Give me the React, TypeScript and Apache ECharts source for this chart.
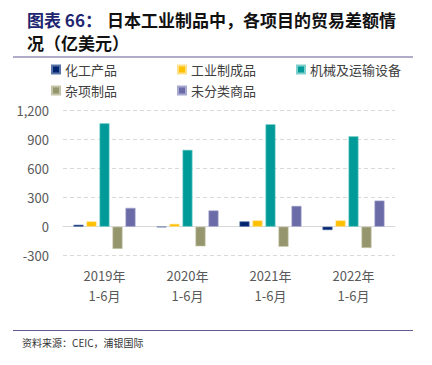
import React, { useEffect, useRef } from "react";
import * as echarts from "echarts";

const categories = ["2019年\n1-6月", "2020年\n1-6月", "2021年\n1-6月", "2022年\n1-6月"];
const seriesNames = ["化工产品", "工业制成品", "机械及运输设备", "杂项制品", "未分类商品"];
const chemicals = [20, -5, 55, -35];
const manufactured = [55, 30, 65, 65];
const machinery = [1070, 795, 1060, 935];
const misc = [-230, -203, -207, -220];
const unclassified = [195, 168, 215, 270];
const colors = ["#002470", "#FFC000", "#009B98", "#96966E", "#6B6BA8"];
const borderColors = ["#5A74A8", "#FFE08A", "#7FD0CC", "#C4C4A8", "#A8A8D0"];
const yTicks = { min: -300, max: 1200, interval: 300 };

const FONT = "'Noto Sans CJK SC', 'Noto Sans', sans-serif";

export default function App() {
  const ref = useRef<HTMLDivElement>(null);
  useEffect(() => {
    if (!ref.current) return;
    const chart = echarts.init(ref.current, undefined, { renderer: "svg" });
    const values = [chemicals, manufactured, machinery, misc, unclassified];
    const legendPos = [
      { left: 51, top: 63 },
      { left: 177, top: 63 },
      { left: 296, top: 63 },
      { left: 51, top: 84 },
      { left: 177, top: 84 },
    ];
    chart.setOption({
      animation: false,
      textStyle: { fontFamily: FONT },
      title: {
        left: 22,
        top: 3,
        text: "{a|图表 66：}{b|日本工业制品中，各项目的贸易差额情}\n{b|况（亿美元）}",
        textStyle: {
          rich: {
            a: { fontSize: 17, fontWeight: "bold", color: "#1F2670", fontFamily: FONT, lineHeight: 23, width: 80 },
            b: { fontSize: 17, fontWeight: "bold", color: "#111111", fontFamily: FONT, lineHeight: 23 },
          },
        },
      },
      legend: seriesNames.map((n, i) => ({
        data: [n],
        left: legendPos[i].left,
        top: legendPos[i].top,
        padding: 0,
        itemWidth: 8,
        itemHeight: 8,
        icon: "rect",
        textStyle: { fontSize: 13, color: "#404040", fontFamily: FONT },
      })),
      grid: { left: 63, right: 37, top: 110.7, bottom: 109.3, containLabel: false },
      xAxis: {
        type: "category",
        data: categories,
        axisLine: { show: true, onZero: true, lineStyle: { color: "#D9D9D9", width: 1 } },
        axisTick: { show: false },
        axisLabel: {
          interval: 0,
          fontSize: 13,
          color: "#595959",
          lineHeight: 20,
          margin: 10,
          fontFamily: FONT,
        },
      },
      yAxis: {
        type: "value",
        min: yTicks.min,
        max: yTicks.max,
        interval: yTicks.interval,
        axisLine: { show: false },
        axisTick: { show: false },
        axisLabel: {
          fontSize: 13,
          color: "#595959",
          margin: 14,
          fontFamily: FONT,
          formatter: (v: number) => v.toLocaleString("en-US"),
        },
        splitLine: { lineStyle: { color: "#D9D9D9", type: [4, 3], width: 1 } },
      },
      series: seriesNames.map((n, i) => ({
        name: n,
        type: "bar",
        data: values[i],
        barWidth: 10,
        barGap: "30%",
        itemStyle: { color: colors[i], borderColor: borderColors[i], borderWidth: 0.6 },
      })),
      graphic: [
        { type: "line", shape: { x1: 13, y1: 57, x2: 413, y2: 57 }, style: { stroke: "#5E5A8E", lineWidth: 1 } },
        { type: "line", shape: { x1: 13, y1: 330.5, x2: 413, y2: 330.5 }, style: { stroke: "#5E5A8E", lineWidth: 1 } },
        {
          type: "text",
          left: 22,
          top: 337,
          style: { text: "资料来源：CEIC，浦银国际", fontSize: 10, fill: "#333333", fontFamily: FONT },
        },
      ],
    });
    return () => chart.dispose();
  }, []);
  return <div ref={ref} style={{ width: 432, height: 365, position: "absolute", left: 0, top: 0 }} />;
}
